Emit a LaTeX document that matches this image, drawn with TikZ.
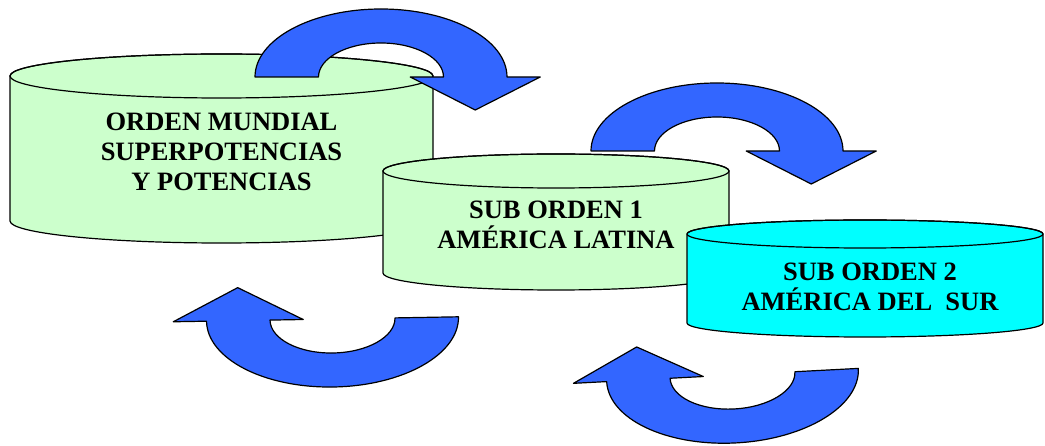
\documentclass[tikz,border=0pt]{standalone}
\usepackage{fontspec}
\setmainfont{Liberation Serif}
\begin{document}
\begin{tikzpicture}[x=1pt,y=-1pt,line join=round]
\definecolor{cylgreen}{HTML}{CCFFCC}
\definecolor{cylcyan}{HTML}{00FFFF}
\definecolor{arrowblue}{HTML}{3366FF}
\tikzset{
  cylline/.style={draw=black,line width=1.2pt},
  arrowshape/.style={draw=black,line width=1.2pt,fill=arrowblue},
  cyltext/.style={align=center,inner sep=0pt,font=\bfseries\fontsize{26.5}{30}\selectfont},
  uarrow/.pic={
    \path[arrowshape] (-126,0) arc[start angle=180,end angle=360,x radius=126,y radius=68]
      -- (159.25,0) -- (94.25,33) -- (29.25,0) -- (62.5,0)
      arc[start angle=0,end angle=-180,x radius=62.5,y radius=34] -- cycle;
  }
}
\useasboundingbox (0,0) rectangle (1045,446);
% cylinder 1
\path[cylline,fill=cylgreen] (10,76) -- (10,221)
  arc[start angle=180,end angle=0,x radius=211.5,y radius=22] -- (433,76)
  arc[start angle=0,end angle=-180,x radius=211.5,y radius=22] -- cycle;
\path[cylline] (221.5,76) ellipse[x radius=211.5,y radius=22];
\node[cyltext] (world) at (221.5,152) {ORDEN MUNDIAL\\SUPERPOTENCIAS\\Y POTENCIAS};
% arrow 1
\pic at (381,77) {uarrow};
% cylinder 2
\path[cylline,fill=cylgreen] (383,171) -- (383,273)
  arc[start angle=180,end angle=0,x radius=173,y radius=17] -- (729,171)
  arc[start angle=0,end angle=-180,x radius=173,y radius=17] -- cycle;
\path[cylline] (556,171) ellipse[x radius=173,y radius=17];
\node[cyltext] (latam) at (556,225) {SUB ORDEN 1\\AMÉRICA LATINA};
% arrow 2
\pic at (717,151) {uarrow};
% cylinder 3
\path[cylline,fill=cylcyan] (687,234) -- (687,323)
  arc[start angle=180,end angle=0,x radius=178,y radius=14] -- (1043,234)
  arc[start angle=0,end angle=-180,x radius=178,y radius=14] -- cycle;
\path[cylline] (865,234) ellipse[x radius=178,y radius=14];
\node[cyltext] (south) at (870,287) {SUB ORDEN 2\\AMÉRICA DEL\ \ SUR};
% arrows 3 and 4
\pic[rotate=181] at (332.5,319) {uarrow};
\pic[rotate=183] at (732.5,375) {uarrow};
\end{tikzpicture}
\end{document}
